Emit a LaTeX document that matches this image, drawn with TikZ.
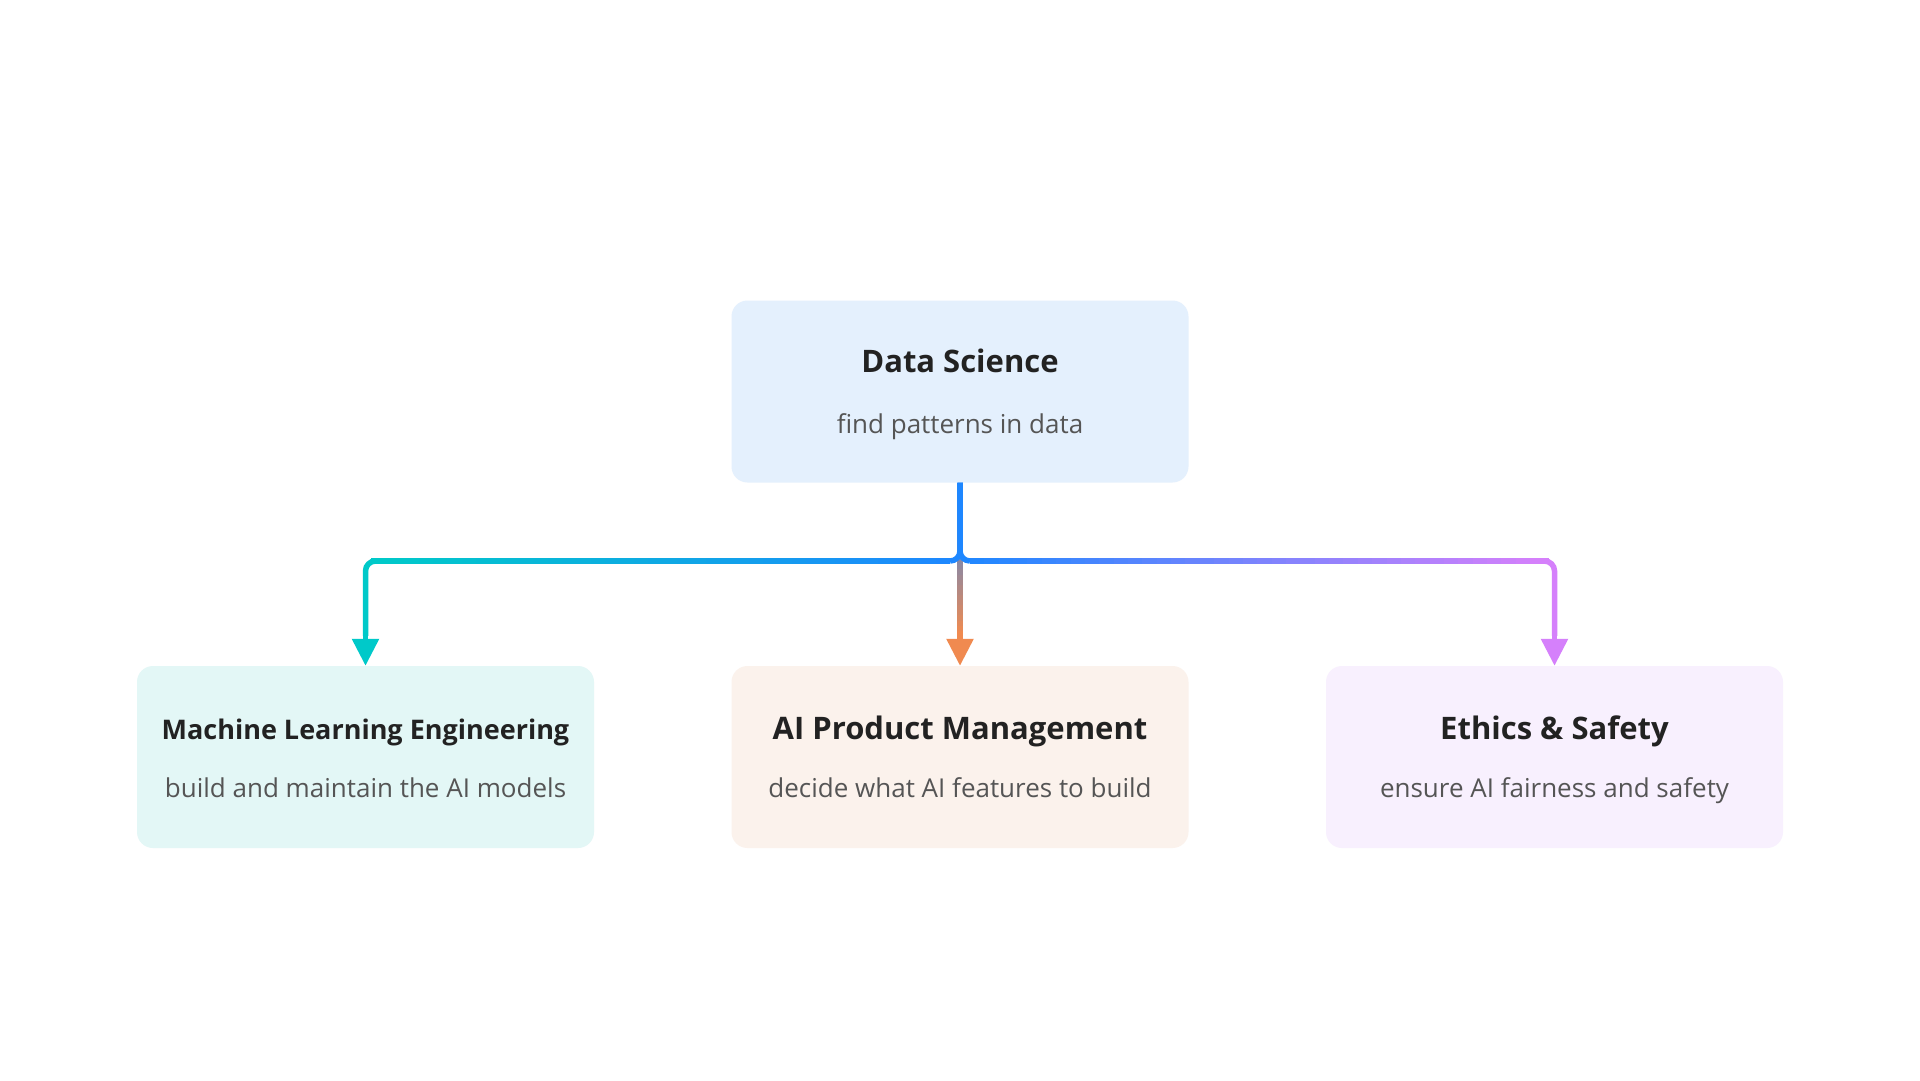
\documentclass[tikz,border=0pt]{standalone}
\usepackage{fontspec}
\setmainfont{Open Sans}
\usetikzlibrary{arrows.meta,calc}
\definecolor{dsblue}{HTML}{1E87FF}
\definecolor{mlcyan}{HTML}{00C9C9}
\definecolor{aiorange}{HTML}{F08A50}
\definecolor{esviolet}{HTML}{D580FB}
\definecolor{dsfill}{HTML}{E4F0FD}
\definecolor{mlfill}{HTML}{E3F7F6}
\definecolor{aifill}{HTML}{FBF2EC}
\definecolor{esfill}{HTML}{F8F0FE}
\definecolor{titlegray}{HTML}{222222}
\definecolor{subgray}{HTML}{555555}
\tikzset{
  card/.style={rectangle, rounded corners=16pt, minimum width=457pt,
    minimum height=182pt, inner sep=0pt},
  ttl/.style={anchor=base, text=titlegray, font=\bfseries\fontsize{31}{36}\selectfont},
  sub/.style={anchor=base, text=subgray, font=\fontsize{26}{31}\selectfont},
  wire/.style={line width=5.5pt},
  tip/.style={-{Triangle[length=27pt,width=26pt]}}
}
\begin{document}
\begin{tikzpicture}[x=1pt,y=-1pt]
  \useasboundingbox[fill=white] (0,0) rectangle (1920,1080);

  % boxes
  \node[card, fill=dsfill] (ds) at (960,391.5) {};
  \node[card, fill=mlfill] (ml) at (365.5,757) {};
  \node[card, fill=aifill] (ai) at (960,757) {};
  \node[card, fill=esfill] (es) at (1554.5,757) {};

  % texts
  \node[ttl] (ds-t) at ($(ds.center)+(0,-19.5)$) {Data Science};
  \node[sub] (ds-s) at ($(ds.center)+(0,41.5)$) {find patterns in data};
  \node[ttl, font=\bfseries\fontsize{27}{32}\selectfont] (ml-t) at ($(ml.center)+(0,-17.5)$) {Machine Learning Engineering};
  \node[sub] (ml-s) at ($(ml.center)+(0,40)$) {build and maintain the AI models};
  \node[ttl] (ai-t) at ($(ai.center)+(0,-17.5)$) {AI Product Management};
  \node[sub] (ai-s) at ($(ai.center)+(0,40)$) {decide what AI features to build};
  \node[ttl] (es-t) at ($(es.center)+(0,-17.5)$) {Ethics \& Safety};
  \node[sub] (es-s) at ($(es.center)+(0,40)$) {ensure AI fairness and safety};

  % connectors
  \coordinate (bus) at (0,561);
  \coordinate (aitip) at ($(ai.north)+(0,-30)$);
  \coordinate (mltip) at ($(ml.north)+(0,-30)$);
  \coordinate (estip) at ($(es.north)+(0,-30)$);
  \foreach \i in {0,...,29} {
    \pgfmathsetmacro\a{\i/30}
    \pgfmathsetmacro\b{(\i+1.3)/30}
    \pgfmathsetmacro\p{100-\i*100/29}
    \draw[wire, draw=dsblue!\p!aiorange] ($(ds.south)!\a!(aitip)$) -- ($(ds.south)!\b!(aitip)$);
  }
  \draw[wire, tip, draw=aiorange, fill=aiorange] (aitip) -- (ai.north);

  \coordinate (jl) at ($(ds.south|-bus)+(-10,0)$);
  \coordinate (cl) at ($(ml.north|-bus)+(10,0)$);
  \coordinate (jr) at ($(ds.south|-bus)+(10,0)$);
  \coordinate (cr) at ($(es.north|-bus)+(-10,0)$);
  \foreach \i in {0,...,39} {
    \pgfmathsetmacro\a{\i/40}
    \pgfmathsetmacro\b{(\i+1.3)/40}
    \pgfmathsetmacro\p{98-\i*98/39}
    \draw[wire, draw=dsblue!\p!mlcyan] ($(jl)!\a!(cl)$) -- ($(jl)!\b!(cl)$);
    \draw[wire, draw=dsblue!\p!esviolet] ($(jr)!\a!(cr)$) -- ($(jr)!\b!(cr)$);
  }
  \draw[wire, draw=dsblue, rounded corners=10pt] (ds.south) -- (ds.south|-bus) -- (jl);
  \draw[wire, draw=dsblue, rounded corners=10pt] (ds.south) -- (ds.south|-bus) -- (jr);
  \draw[wire, draw=mlcyan, rounded corners=10pt] (cl) -- (ml.north|-bus) -- (mltip);
  \draw[wire, draw=esviolet, rounded corners=10pt] (cr) -- (es.north|-bus) -- (estip);
  \draw[wire, tip, draw=mlcyan, fill=mlcyan] (mltip) -- (ml.north);
  \draw[wire, tip, draw=esviolet, fill=esviolet] (estip) -- (es.north);
\end{tikzpicture}
\end{document}
